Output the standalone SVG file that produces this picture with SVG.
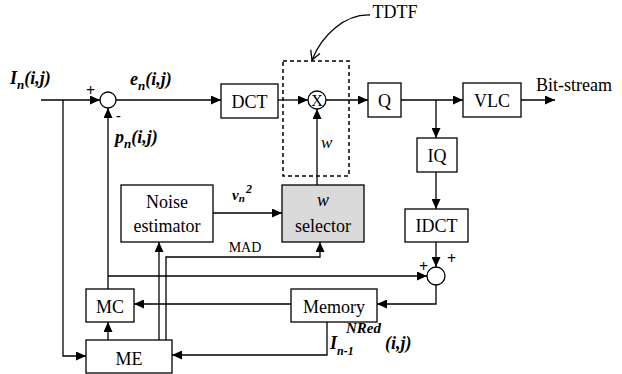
<svg xmlns="http://www.w3.org/2000/svg" width="622" height="374" viewBox="0 0 622 374">
<style>
.box{fill:#fff;stroke:#000;stroke-width:1.3}
.gray{fill:#dadada;stroke:#000;stroke-width:1.3}
.ln{fill:none;stroke:#000;stroke-width:1.3}
.arr{fill:none;stroke:#000;stroke-width:1.3;marker-end:url(#ah)}
.t{font-family:"Liberation Serif",serif;font-size:18px;fill:#000;text-anchor:middle}
.lab{font-family:"Liberation Serif",serif;font-size:18px;font-style:italic;font-weight:bold;fill:#000}
.sm{font-family:"Liberation Serif",serif;font-size:16px;font-weight:bold;fill:#000}
</style>
<defs>
<marker id="ah" markerUnits="userSpaceOnUse" markerWidth="10" markerHeight="9" refX="10" refY="4.5" orient="auto">
<path d="M0,0 L10,4.5 L0,9 z" fill="#000"/>
</marker>
<marker id="oa" markerUnits="userSpaceOnUse" markerWidth="12" markerHeight="12" refX="10" refY="6" orient="auto">
<path d="M1,1 L10,6 L1,11" fill="none" stroke="#000" stroke-width="1.3"/>
</marker>
</defs>

<g id="connectors">
<path class="arr" d="M41,100 H100"/>
<path class="arr" d="M63,100 V356 H86"/>
<path class="arr" d="M116,100 H221"/>
<path class="arr" d="M278,100 H308"/>
<path class="arr" d="M326,100 H368"/>
<path class="arr" d="M401,100 H463"/>
<path class="arr" d="M436,100 V138"/>
<path class="arr" d="M521,100 H555"/>
<path class="arr" d="M436,172 V209"/>
<path class="arr" d="M436,242 V267"/>
<path class="arr" d="M436,285 V304 H377"/>
<path class="arr" d="M291,304 H134"/>
<path class="arr" d="M327,322 V355 H172"/>
<path class="arr" d="M108,340 V322"/>
<path class="arr" d="M108,289 V108"/>
<path class="arr" d="M108,276 H427"/>
<path class="arr" d="M159,340 V242"/>
<path class="arr" d="M166,340 V257 H320 V242"/>
<path class="arr" d="M213,213 H282"/>
<path class="arr" d="M317,185 V109"/>
<path d="M370,15 C345,14 322,35 312,60" fill="none" stroke="#000" stroke-width="1.3" marker-end="url(#oa)"/>
</g>

<g id="tdtf">
<rect x="283" y="61" width="66" height="115" fill="none" stroke="#000" stroke-width="1.5" stroke-dasharray="4,3"/>
<text class="t" x="395" y="18">TDTF</text>
</g>

<g id="sum1"><circle class="box" cx="108" cy="100" r="8"/></g>
<g id="mult"><circle class="box" cx="317" cy="100" r="9"/><text class="t" x="317" y="106" style="font-size:16px">X</text></g>
<g id="sum2"><circle class="box" cx="436" cy="276" r="9"/></g>

<g id="dct"><rect class="box" x="221" y="84" width="57" height="34"/><text class="t" x="249.5" y="108">DCT</text></g>
<g id="q"><rect class="box" x="368" y="83" width="33" height="34"/><text class="t" x="384.5" y="107">Q</text></g>
<g id="vlc"><rect class="box" x="463" y="83" width="58" height="34"/><text class="t" x="492" y="107">VLC</text></g>
<g id="iq"><rect class="box" x="417" y="138" width="40" height="34"/><text class="t" x="437" y="162">IQ</text></g>
<g id="idct"><rect class="box" x="405" y="209" width="63" height="33"/><text class="t" x="436.5" y="232">IDCT</text></g>
<g id="noise"><rect class="box" x="121" y="185" width="92" height="57"/><text class="t" x="167" y="208">Noise</text><text class="t" x="167" y="232">estimator</text></g>
<g id="wsel"><rect class="gray" x="282" y="185" width="82" height="57"/><text class="t" x="323" y="206" font-style="italic">w</text><text class="t" x="323" y="232">selector</text></g>
<g id="memory"><rect class="box" x="291" y="289" width="86" height="33"/><text class="t" x="334" y="313">Memory</text></g>
<g id="mc"><rect class="box" x="86" y="289" width="48" height="33"/><text class="t" x="110" y="313">MC</text></g>
<g id="me"><rect class="box" x="86" y="340" width="86" height="33"/><text class="t" x="129" y="365">ME</text></g>

<g id="labels">
<text class="lab" x="10" y="84">I<tspan font-size="13" dy="5">n</tspan><tspan dy="-5">(i,j)</tspan></text>
<text class="lab" x="130" y="85">e<tspan font-size="13" dy="5">n</tspan><tspan dy="-5">(i,j)</tspan></text>
<text class="lab" x="115" y="143">p<tspan font-size="13" dy="5">n</tspan><tspan dy="-5">(i,j)</tspan></text>
<text class="lab" x="232" y="200" style="font-size:15px">v<tspan font-size="11" dy="2">n</tspan><tspan font-size="12" x="246" y="193">2</tspan></text>
<text class="lab" x="321" y="148" style="font-weight:normal;font-size:17px">w</text>
<text class="t" x="245" y="252" style="font-size:14px">MAD</text>
<text class="lab" x="330" y="349">I<tspan font-size="12" y="355">n-1</tspan><tspan font-size="15" x="346" y="333">NRed</tspan><tspan x="385" y="349">(i,j)</tspan></text>
<text class="t" x="574" y="91">Bit-stream</text>
<text class="sm" x="86" y="96">+</text>
<text class="sm" x="116" y="120" style="font-size:14px">-</text>
<text class="sm" x="447" y="264">+</text>
<text class="sm" x="419" y="272">+</text>
</g>
</svg>
